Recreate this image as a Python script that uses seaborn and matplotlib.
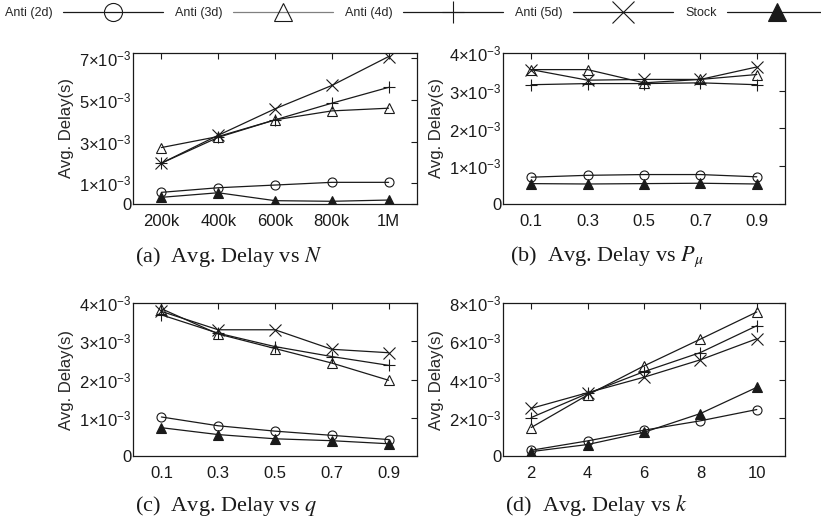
import matplotlib

matplotlib.use("Agg")
import matplotlib.pyplot as plt
import pandas as pd
import seaborn as sns
from matplotlib.ticker import FixedLocator, FuncFormatter

# series names and marker styles
SERIES = ["Anti (2d)", "Anti (3d)", "Anti (4d)", "Anti (5d)", "Stock"]
MARKERS = {"Anti (2d)": "o", "Anti (3d)": "^", "Anti (4d)": "+", "Anti (5d)": "x", "Stock": "^"}

# (a) delay vs N, values in units of 1e-3 s
n_x = [200e3, 400e3, 600e3, 800e3, 1000e3]
n_labels = ["200k", "400k", "600k", "800k", "1M"]
n_delay = {
    "Anti (2d)": [0.56, 0.78, 0.91, 1.04, 1.04],
    "Anti (3d)": [2.71, 3.24, 4.04, 4.47, 4.60],
    "Anti (4d)": [1.96, 3.20, 4.04, 4.84, 5.60],
    "Anti (5d)": [1.96, 3.30, 4.57, 5.69, 7.08],
    "Stock": [0.32, 0.54, 0.16, 0.13, 0.19],
}

# (b) delay vs P_mu
p_x = [0.1, 0.3, 0.5, 0.7, 0.9]
p_delay = {
    "Anti (2d)": [0.71, 0.76, 0.78, 0.78, 0.72],
    "Anti (3d)": [3.56, 3.56, 3.21, 3.30, 3.43],
    "Anti (4d)": [3.16, 3.19, 3.19, 3.21, 3.16],
    "Anti (5d)": [3.56, 3.28, 3.30, 3.30, 3.63],
    "Stock": [0.54, 0.53, 0.54, 0.55, 0.53],
}

# (c) delay vs q
q_x = [0.1, 0.3, 0.5, 0.7, 0.9]
q_delay = {
    "Anti (2d)": [1.02, 0.79, 0.65, 0.54, 0.43],
    "Anti (3d)": [3.85, 3.19, 2.81, 2.43, 1.98],
    "Anti (4d)": [3.69, 3.21, 2.86, 2.60, 2.37],
    "Anti (5d)": [3.78, 3.30, 3.30, 2.79, 2.70],
    "Stock": [0.74, 0.56, 0.45, 0.40, 0.32],
}

# (d) delay vs k
k_x = [2, 4, 6, 8, 10]
k_delay = {
    "Anti (2d)": [0.30, 0.79, 1.35, 1.84, 2.43],
    "Anti (3d)": [1.49, 3.19, 4.71, 6.11, 7.53],
    "Anti (4d)": [2.01, 3.27, 4.41, 5.41, 6.81],
    "Anti (5d)": [2.49, 3.31, 4.12, 5.03, 6.13],
    "Stock": [0.23, 0.60, 1.24, 2.22, 3.59],
}


def to_long(xs, delays):
    rows = []
    for name in SERIES:
        for x, v in zip(xs, delays[name]):
            rows.append({"x": x, "delay": v * 1e-3, "series": name})
    return pd.DataFrame(rows)


def sci_fmt(v, _pos):
    n = round(v * 1e3)
    if n == 0:
        return "0"
    return rf"${n}{{\times}}10^{{-3}}$"


def draw_panel(ax, df, xlim, xticks, xlabels, ylim, yticks):
    for name in SERIES:
        part = df[df["series"] == name]
        filled = name == "Stock"
        sns.lineplot(
            data=part, x="x", y="delay", ax=ax, color="k", lw=0.9,
            marker=MARKERS[name], markersize=6.5 if MARKERS[name] in "o^" else 8,
            mfc="k" if filled else "none", mec="k", mew=0.8,
            label=name, legend=False,
        )
    ax.set_xlim(*xlim)
    ax.set_ylim(*ylim)
    ax.xaxis.set_major_locator(FixedLocator(xticks))
    ax.set_xticklabels(xlabels)
    ax.yaxis.set_major_locator(FixedLocator(yticks))
    ax.yaxis.set_major_formatter(FuncFormatter(sci_fmt))
    ax.set_xlabel("")
    ax.set_ylabel("Avg. Delay(s)", fontsize=12, labelpad=4)
    ax.tick_params(direction="in", top=True, right=True, length=4, width=0.8,
                   labelsize=12, colors="k")
    ax.tick_params(axis="x", pad=7)
    ax.tick_params(axis="y", pad=1)
    for s in ax.spines.values():
        s.set_color("k")
        s.set_linewidth(0.9)


sns.set_theme(style="white")
plt.rcParams["font.family"] = ["Liberation Sans", "DejaVu Sans"]
plt.rcParams["mathtext.fontset"] = "custom"
plt.rcParams["mathtext.rm"] = "Liberation Sans"
plt.rcParams["mathtext.it"] = "Liberation Sans:italic"
plt.rcParams["mathtext.default"] = "regular"

fig = plt.figure(figsize=(8.21, 5.24), dpi=100)
W, H = 821, 524


def add_axes(left, top, right, bottom):
    return fig.add_axes([left / W, 1 - bottom / H, (right - left) / W, (bottom - top) / H])


ax_a = add_axes(133, 53, 417, 204)
ax_b = add_axes(503, 53, 785, 204)
ax_c = add_axes(133, 303, 417, 456)
ax_d = add_axes(503, 303, 785, 456)

draw_panel(ax_a, to_long(n_x, n_delay), (100e3, 1100e3), n_x, n_labels,
           (0, 7.25e-3), [0, 1e-3, 3e-3, 5e-3, 7e-3])
draw_panel(ax_b, to_long(p_x, p_delay), (0, 1), p_x, [f"{v:.1f}" for v in p_x],
           (0, 4e-3), [0, 1e-3, 2e-3, 3e-3, 4e-3])
draw_panel(ax_c, to_long(q_x, q_delay), (0, 1), q_x, [f"{v:.1f}" for v in q_x],
           (0, 4e-3), [0, 1e-3, 2e-3, 3e-3, 4e-3])
draw_panel(ax_d, to_long(k_x, k_delay), (1, 11), k_x, [str(v) for v in k_x],
           (0, 8e-3), [0, 2e-3, 4e-3, 6e-3, 8e-3])

# captions under each panel
captions = [
    (135, 257, r"(a)  Avg. Delay vs $\mathit{N}$"),
    (510, 257, r"(b)  Avg. Delay vs $\mathit{P}_{\mathit{\mu}}$"),
    (135, 506, r"(c)  Avg. Delay vs $\mathit{q}$"),
    (505, 506, r"(d)  Avg. Delay vs $\mathit{k}$"),
]
for x, y, txt in captions:
    fig.text(x / W, 1 - y / H, txt, ha="left", va="center", fontsize=16,
             family="Liberation Serif", math_fontfamily="stix", color="k")

handles, labels = ax_a.get_legend_handles_labels()
leg = fig.legend(
    handles, labels, loc="center left", bbox_to_anchor=(5 / W, 1 - 13 / H),
    ncol=5, frameon=False, markerfirst=False, fontsize=9, handlelength=8,
    handletextpad=0.8, columnspacing=1.0, markerscale=2, borderpad=0,
    borderaxespad=0,
)
leg.get_lines()[1].set_color("0.5")
leg.get_lines()[1].set_markeredgecolor("k")

fig.savefig("out.png", dpi=100)
